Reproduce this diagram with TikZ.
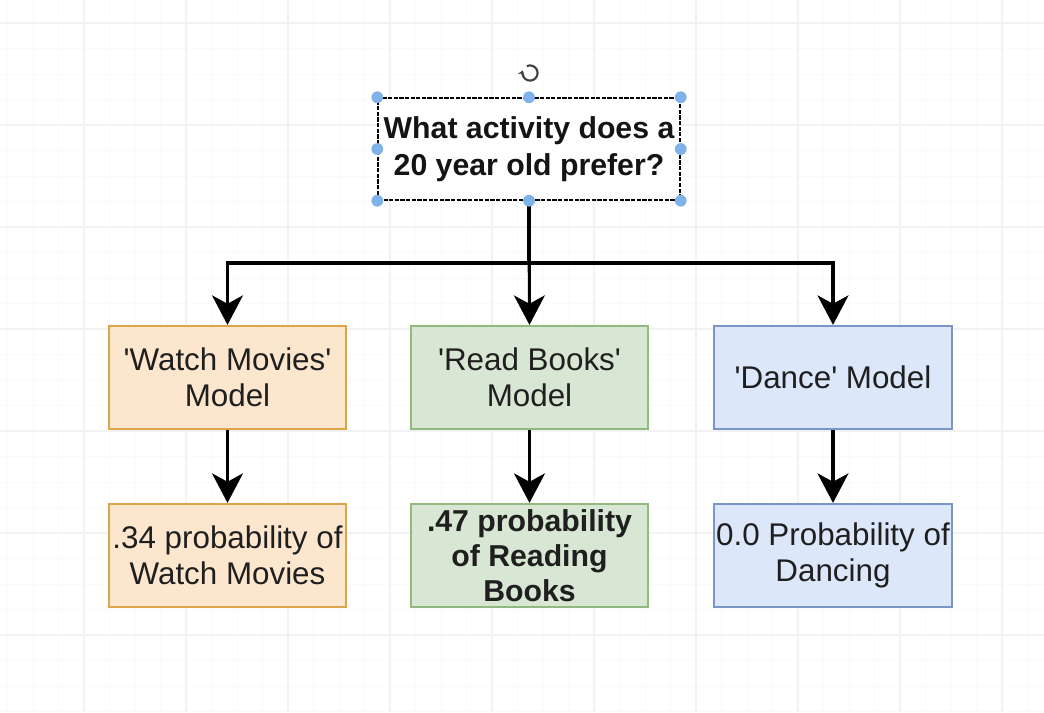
\documentclass[tikz,border=0pt]{standalone}
\usepackage{fontspec}
\setmainfont{Liberation Sans}
\usetikzlibrary{arrows.meta}
\definecolor{moviefill}{HTML}{FCE6CE}
\definecolor{movieline}{HTML}{DDA54A}
\definecolor{bookfill}{HTML}{D8E7D3}
\definecolor{bookline}{HTML}{92B980}
\definecolor{dancefill}{HTML}{DCE7FA}
\definecolor{danceline}{HTML}{7896C8}
\definecolor{handle}{HTML}{80B2EA}
\definecolor{gridminor}{HTML}{FAFAFB}
\definecolor{gridmajor}{HTML}{F2F2F4}
\tikzset{
  model/.style={draw, line width=1.4pt, minimum width=5.93cm, minimum height=2.58cm,
    inner xsep=1pt, align=center, text=black!88, font=\fontsize{22.3}{25.5}\selectfont},
  question/.style={draw, dashed, dash pattern=on 3pt off 1pt, line width=1pt, fill=white,
    minimum width=7.55cm, minimum height=2.55cm, align=center, text=black!92,
    font=\fontsize{21.5}{26.5}\selectfont\bfseries},
  flow/.style={->, line width=2.2pt},
}
\begin{document}
\begin{tikzpicture}[x=0.025cm, y=-0.025cm, >={Stealth[length=21pt,width=22pt,inset=6pt]}]
\useasboundingbox (0,0) rectangle (1044,712);
% faint canvas grid
\foreach \gx in {7.5,33,...,1044} \draw[gridminor, line width=0.5pt] (\gx,0) -- (\gx,712);
\foreach \gy in {-2.5,23,...,712} \draw[gridminor, line width=0.5pt] (0,\gy) -- (1044,\gy);
\foreach \gx in {84,186,...,1044} \draw[gridmajor, line width=0.8pt] (\gx,0) -- (\gx,712);
\foreach \gy in {23,125,...,712} \draw[gridmajor, line width=0.8pt] (0,\gy) -- (1044,\gy);

\node[question] (ask) at (529,149) {\raisebox{-3.5pt}{What activity does a}\\\raisebox{-3.5pt}{20 year old prefer?}};
\node[model, fill=moviefill, draw=movieline] (movie) at (227.5,377.5) {\textquotesingle Watch Movies\textquotesingle\\Model};
\node[model, fill=bookfill, draw=bookline] (books) at (529.5,377.5) {\textquotesingle Read Books\textquotesingle\\Model};
\node[model, fill=dancefill, draw=danceline] (dance) at (833,377.5) {\textquotesingle Dance\textquotesingle{} Model};
\node[model, fill=moviefill, draw=movieline] (pmovie) at (227.5,555.5) {.34 probability of\\Watch Movies};
\node[model, fill=bookfill, draw=bookline, font=\fontsize{21.5}{25}\selectfont\bfseries] (pbooks) at (529.5,555.5) {.47 probability\\of Reading\\Books};
\node[model, fill=dancefill, draw=danceline] (pdance) at (833,555.5) {0.0 Probability of\\Dancing};

\coordinate (split) at (529,263);
\draw[flow] (ask.south) -- (split) -| (movie.north);
\draw[flow] (split) -| (dance.north);
\draw[flow] (ask.south) -- (books.north);
\draw[flow] (movie) -- (pmovie);
\draw[flow] (books) -- (pbooks);
\draw[flow] (dance) -- (pdance);

% selection handles
\foreach \a in {north west,north,north east,east,south east,south,south west,west}
  \fill[handle] (ask.\a) circle (4.2pt);
\coordinate (turn) at (530,73);
\draw[black!75, line width=1.5pt, -{Stealth[length=3.5pt,width=5pt]}] ([shift={(115:0.19cm)}]turn) arc (115:-200:0.19cm);
\end{tikzpicture}
\end{document}
